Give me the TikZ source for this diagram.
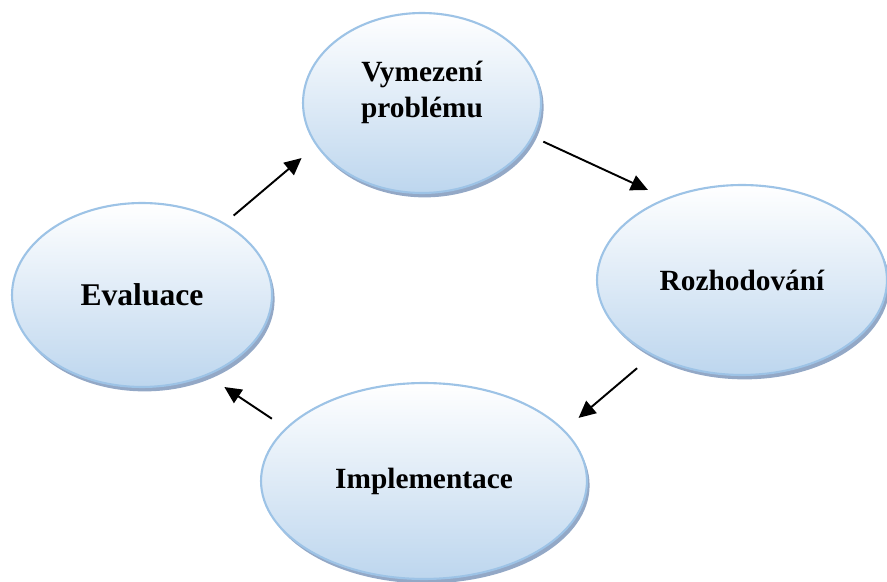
\documentclass[tikz,border=0pt]{standalone}
\usepackage{fontspec}
\setmainfont{Liberation Serif}
\usepackage{xcolor}
\usepackage{tikz}
\usetikzlibrary{arrows.meta, shapes.geometric, shadows}

\definecolor{rimblue}{RGB}{157,195,230}
\definecolor{fillblue}{RGB}{189,214,238}
\definecolor{shadeblue}{RGB}{135,158,192}

\begin{document}
\begin{tikzpicture}[
                x=0.02cm, y=0.02cm,
                bubble/.style={ellipse, draw=rimblue, line width=1.2pt, top color=white, bottom color=fillblue,
                    drop shadow={shadow xshift=1.5pt, shadow yshift=-2.5pt, fill=shadeblue, opacity=0.9},
                    inner sep=0pt, align=center, font=\bfseries\fontsize{16.7pt}{20pt}\selectfont},
                arrow/.style={line width=1.1pt, -{Triangle[length=3.4mm, width=3.2mm]}}
            ]
                \useasboundingbox (0,0) rectangle (887,582);

                % Cycle nodes
                \node[bubble, minimum width=4.76cm, minimum height=3.6cm] (vym) at (422,479)
                    {\raisebox{0.06cm}[0.8cm][0.8cm]{\begin{tabular}{@{}c@{}}Vymezení\\problému\end{tabular}}};
                \node[bubble, minimum width=5.8cm, minimum height=3.8cm] (roz) at (742,302) {Rozhodování};
                \node[bubble, minimum width=6.52cm, minimum height=3.92cm] (impl) at (424,101) {Implementace};
                \node[bubble, minimum width=5.2cm, minimum height=3.68cm, font=\bfseries\fontsize{18pt}{21pt}\selectfont] (eval) at (142,287) {Evaluace};

                % Edges
                \path[arrow]
                    (eval.41.5) edge[shorten <=2.3mm, shorten >=3.8mm] (vym.202.4)
                    (vym.343.8) edge[shorten <=2.2mm, shorten >=3.9mm] (roz.133.9)
                    (roz.220.8) edge[shorten <=3.9mm, shorten >=3.7mm] (impl.20.4)
                    (impl.159) edge[shorten <=3.3mm, shorten >=4.1mm] (eval.309.3);
            \end{tikzpicture}
\end{document}
